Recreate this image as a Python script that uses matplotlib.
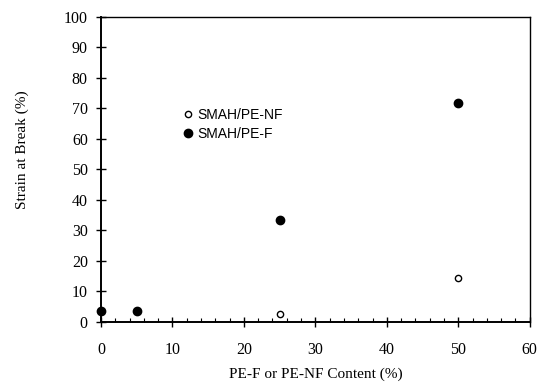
import matplotlib
matplotlib.use("Agg")
import matplotlib.pyplot as plt
from matplotlib.ticker import MultipleLocator

# Données
content_nf = [25, 50]
strain_nf = [2.6, 14.4]
content_f = [0, 5, 25, 50]
strain_f = [3.4, 3.4, 33.4, 71.8]

serif = "Liberation Serif"
sans = "Liberation Sans"

fig = plt.figure(figsize=(5.4, 3.85), dpi=100)
ax = fig.add_axes([0.187, 0.164, 0.794, 0.792])

ax.plot(content_nf, strain_nf, "o", mfc="white", mec="black", mew=1.0,
        ms=4.5, linestyle="none", label="SMAH/PE-NF", clip_on=False)
ax.plot(content_f, strain_f, "o", color="black", ms=6,
        linestyle="none", label="SMAH/PE-F", clip_on=False)

ax.set_xlim(0, 60)
ax.set_ylim(0, 100)
ax.xaxis.set_major_locator(MultipleLocator(10))
ax.xaxis.set_minor_locator(MultipleLocator(2))
ax.yaxis.set_major_locator(MultipleLocator(10))

ax.tick_params(axis="both", which="major", direction="inout", length=7,
               width=1.0, labelsize=11.5, top=False, right=False)
ax.tick_params(axis="x", which="major", pad=11)
ax.tick_params(axis="y", which="major", pad=6)
ax.tick_params(axis="x", which="minor", direction="in", length=3, width=0.8)
for lab in ax.get_xticklabels() + ax.get_yticklabels():
    lab.set_fontfamily(serif)

for s in ax.spines.values():
    s.set_linewidth(1.0)
ax.spines["left"].set_linewidth(1.4)
ax.spines["bottom"].set_linewidth(1.4)

ax.set_xlabel("PE-F or PE-NF Content (%)", fontfamily=serif, fontsize=11,
              labelpad=7)
ax.set_ylabel("Strain at Break (%)", fontfamily=serif, fontsize=11,
              va="center")
ax.yaxis.set_label_coords(-0.184, 0.564)

leg = ax.legend(loc="upper left", bbox_to_anchor=(0.18, 0.725), frameon=False,
                handlelength=0.4, handletextpad=0.5, labelspacing=0.35,
                borderpad=0, prop={"family": sans, "size": 10})

plt.savefig("out.png", dpi=100)
